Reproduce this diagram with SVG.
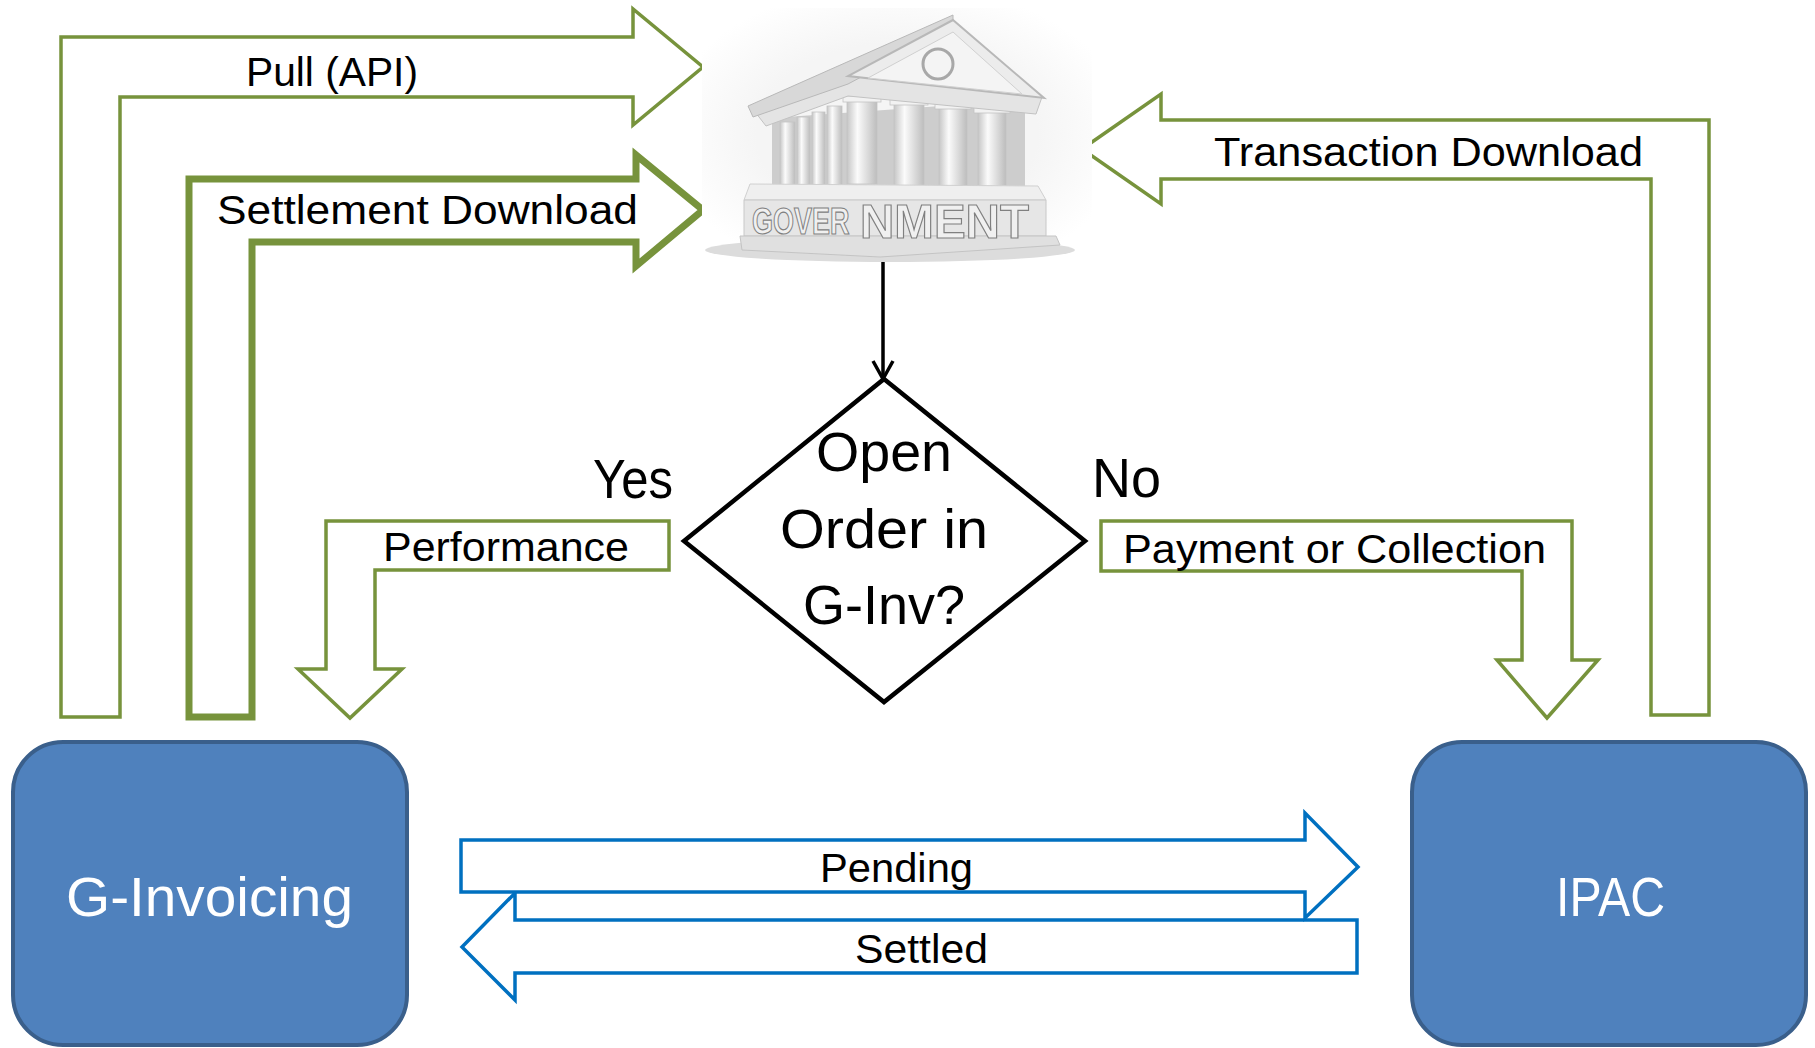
<svg xmlns="http://www.w3.org/2000/svg" width="1815" height="1048" viewBox="0 0 1815 1048">
<defs>
<style>
.g{fill:#fff;stroke:#77933C;stroke-width:3.5;stroke-linejoin:miter}
.gt{fill:#fff;stroke:#77933C;stroke-width:7;stroke-linejoin:miter}
.b{fill:#fff;stroke:#0070C0;stroke-width:3.5;stroke-linejoin:miter}
.lbl{font-family:"Liberation Sans",Arial,sans-serif;font-size:41px;fill:#000}
.big{font-family:"Liberation Sans",Arial,sans-serif;font-size:56px;fill:#000}
.box{fill:#4F81BD;stroke:#3A5F8B;stroke-width:4}
.boxt{font-family:"Liberation Sans",Arial,sans-serif;font-size:56px;fill:#fff}
.col{fill:url(#colg);stroke:#C4C4C4;stroke-width:0.8}
.cap{fill:#F2F2F2;stroke:#C4C4C4;stroke-width:0.8}
.gov{font-family:"Liberation Sans",Arial,sans-serif;font-weight:bold;fill:#F0F0F0;stroke:#808080;stroke-width:1.2}
</style>
<linearGradient id="colg" x1="0" x2="1" y1="0" y2="0">
<stop offset="0" stop-color="#C6C6C6"/>
<stop offset="0.35" stop-color="#FBFBFB"/>
<stop offset="1" stop-color="#BDBDBD"/>
</linearGradient>
<radialGradient id="bg" cx="0.5" cy="0.5" r="0.6">
<stop offset="0.6" stop-color="#F5F5F5"/>
<stop offset="1" stop-color="#FFFFFF"/>
</radialGradient>
</defs>

<g id="connectors">
<path id="pull-api" class="g" d="M61,717 L61,37 L633,37 L633,9 L703,67 L633,125 L633,97 L120,97 L120,717 Z"/>
<path id="settlement-download" class="gt" d="M189,717 L189,179 L636,179 L636,155 L703,210 L636,266 L636,242 L252,242 L252,717 Z"/>
<path id="transaction-download" class="g" d="M1082,149 L1161,94 L1161,120 L1709,120 L1709,715 L1651,715 L1651,179 L1161,179 L1161,204 Z"/>
<path id="performance" class="g" d="M669,521 L669,570 L375,570 L375,669 L402,669 L350,718 L298,669 L326,669 L326,521 Z"/>
<path id="payment" class="g" d="M1101,521 L1572,521 L1572,660 L1598,660 L1547,718 L1497,660 L1522,660 L1522,571 L1101,571 Z"/>
<path id="settled" class="b" d="M462,947 L515,893 L515,920 L1357,920 L1357,973 L515,973 L515,1000 Z"/>
<path id="pending" class="b" d="M461,840 L1305,840 L1305,813 L1358,867 L1305,918 L1305,892 L461,892 Z"/>
<line x1="883" y1="248" x2="883" y2="378" stroke="#000" stroke-width="3.5"/>
<polyline points="873,361 883,379 893,361" fill="none" stroke="#000" stroke-width="3.5"/>
<text class="lbl" x="246" y="86" textLength="172" lengthAdjust="spacingAndGlyphs">Pull (API)</text>
<text class="lbl" x="217" y="224" textLength="421" lengthAdjust="spacingAndGlyphs">Settlement Download</text>
<text class="lbl" x="1214" y="166" textLength="429" lengthAdjust="spacingAndGlyphs">Transaction Download</text>
<text class="lbl" x="383" y="561" textLength="246" lengthAdjust="spacingAndGlyphs">Performance</text>
<text class="lbl" x="1123" y="563" textLength="423" lengthAdjust="spacingAndGlyphs">Payment or Collection</text>
<text class="lbl" x="820" y="882" textLength="153" lengthAdjust="spacingAndGlyphs">Pending</text>
<text class="lbl" x="855" y="963" textLength="133" lengthAdjust="spacingAndGlyphs">Settled</text>
<text class="big" x="593" y="498" textLength="80" lengthAdjust="spacingAndGlyphs">Yes</text>
<text class="big" x="1092" y="497" textLength="69" lengthAdjust="spacingAndGlyphs">No</text>
</g>

<g id="government">
<rect x="702" y="8" width="390" height="252" fill="url(#bg)"/>
<ellipse cx="890" cy="250" rx="185" ry="12" fill="#DCDCDC"/>
<polygon points="772,118 1025,100 1025,190 772,190" fill="#CDCDCD"/>
<rect class="col" x="780" y="122" width="15" height="64"/>
<rect class="col" x="797" y="117" width="13" height="69"/>
<rect class="col" x="812" y="112" width="13" height="74"/>
<rect class="col" x="827" y="106" width="15" height="80"/>
<rect class="col" x="847" y="100" width="30" height="84"/>
<rect class="col" x="894" y="103" width="30" height="83"/>
<rect class="col" x="939" y="107" width="28" height="81"/>
<rect class="col" x="978" y="111" width="28" height="79"/>
<rect class="cap" x="843" y="96" width="38" height="6"/>
<rect class="cap" x="890" y="99" width="38" height="6"/>
<rect class="cap" x="935" y="103" width="36" height="6"/>
<rect class="cap" x="974" y="107" width="36" height="6"/>
<polygon points="750,184 1038,186 1046,200 744,200" fill="#EFEFEF" stroke="#D0D0D0"/>
<polygon points="744,200 1046,200 1046,236 744,236" fill="#E6E6E6" stroke="#C8C8C8"/>
<polygon points="740,236 1056,236 1060,245 880,257 742,250" fill="#E0E0E0" stroke="#C4C4C4"/>
<text class="gov" transform="translate(752,234) scale(0.75,1)" x="0" y="0" font-size="36">GOVER</text>
<text class="gov" transform="translate(860,238) scale(0.97,1)" x="0" y="0" font-size="49">NMENT</text>
<polygon points="752,108 848,74 1042,97 1036,114 848,96 766,126" fill="#E4E4E4" stroke="#C2C2C2"/>
<polygon points="953,15 748,106 753,117 848,84 953,28" fill="#D8D8D8" stroke="#B8B8B8"/>
<polygon points="953,20 848,76 1044,98" fill="#ECECEC" stroke="#B8B8B8" stroke-width="2"/>
<polygon points="953,32 868,78 1022,94" fill="#F4F4F4" stroke="#D0D0D0"/>
<circle cx="938" cy="64" r="15" fill="none" stroke="#A8A8A8" stroke-width="3"/>
</g>

<g id="decision">
<polygon points="884,379 1085,541 884,702 684,541" fill="none" stroke="#000" stroke-width="4.5"/>
<text class="big" x="816" y="471" textLength="136" lengthAdjust="spacingAndGlyphs">Open</text>
<text class="big" x="780" y="548" textLength="208" lengthAdjust="spacingAndGlyphs">Order in</text>
<text class="big" x="803" y="624" textLength="162" lengthAdjust="spacingAndGlyphs">G-Inv?</text>
</g>

<g id="g-invoicing">
<rect class="box" x="13" y="742" width="394" height="303" rx="50" ry="50"/>
<text class="boxt" x="66" y="916" textLength="287" lengthAdjust="spacingAndGlyphs">G-Invoicing</text>
</g>

<g id="ipac">
<rect class="box" x="1412" y="742" width="394" height="303" rx="50" ry="50"/>
<text class="boxt" x="1556" y="916" textLength="109" lengthAdjust="spacingAndGlyphs">IPAC</text>
</g>
</svg>
